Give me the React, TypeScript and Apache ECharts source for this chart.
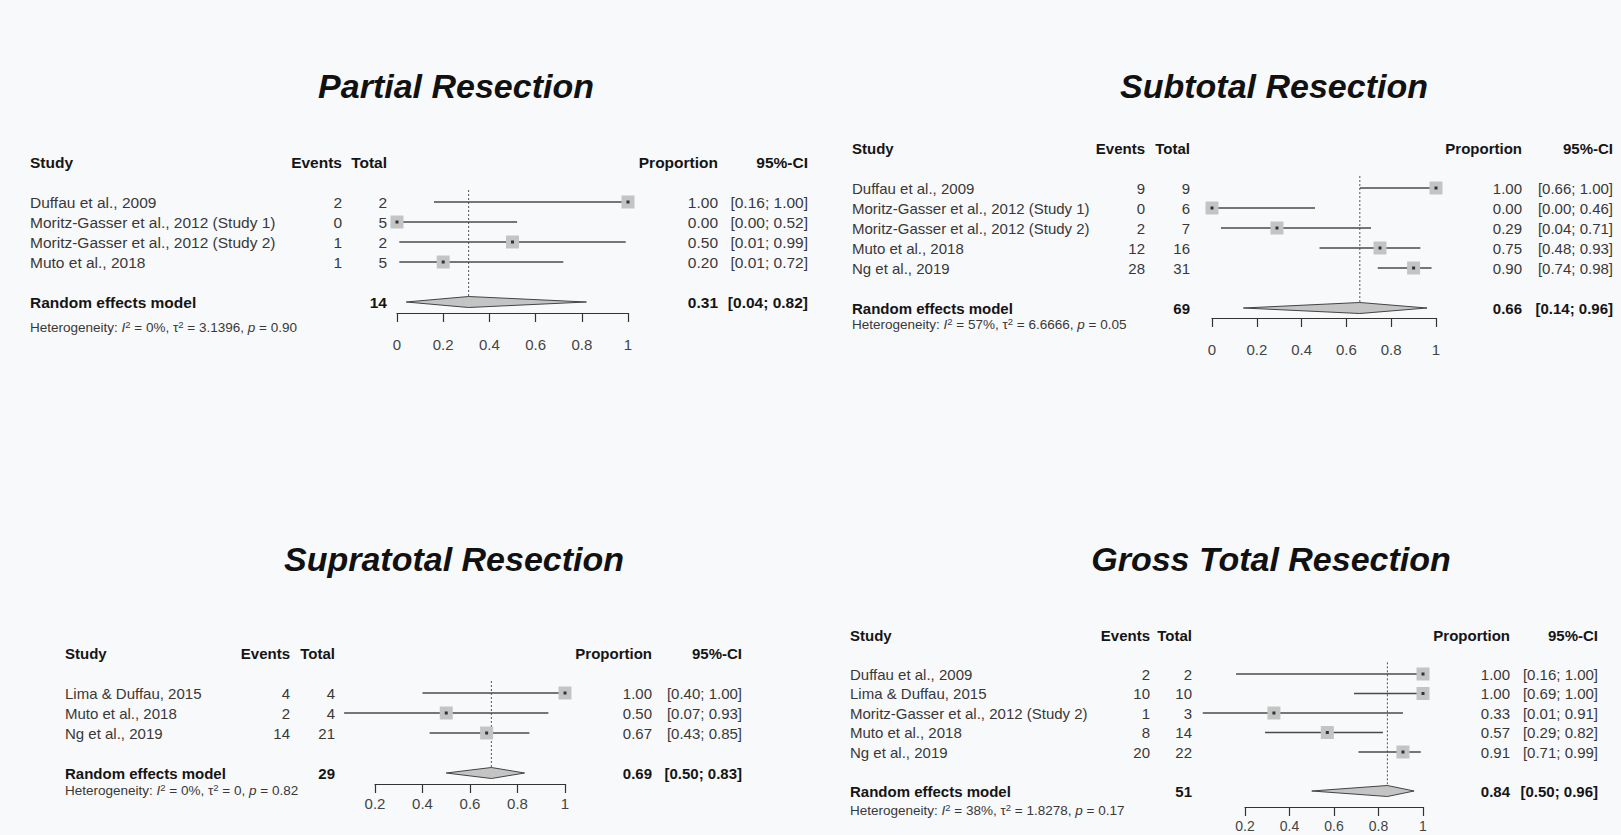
import React, { useEffect, useRef } from "react";
import * as echarts from "echarts";

// ---------------- Data: Partial Resection ----------------
const partialTitle = "Partial Resection";
const partialStudies = [
  "Duffau et al., 2009",
  "Moritz-Gasser et al., 2012 (Study 1)",
  "Moritz-Gasser et al., 2012 (Study 2)",
  "Muto et al., 2018",
];
const partialEvents = [2, 0, 1, 1];
const partialTotals = [2, 5, 2, 5];
const partialProp = [1.0, 0.0, 0.5, 0.2];
const partialLower = [0.16, 0.0, 0.01, 0.01];
const partialUpper = [1.0, 0.52, 0.99, 0.72];
const partialPooled = [0.31, 0.04, 0.82];
const partialTotalN = 14;
const partialHet = ["0%", "3.1396", "0.90"];
const partialTicks = [0, 0.2, 0.4, 0.6, 0.8, 1];

// ---------------- Data: Subtotal Resection ----------------
const subtotalTitle = "Subtotal Resection";
const subtotalStudies = [
  "Duffau et al., 2009",
  "Moritz-Gasser et al., 2012 (Study 1)",
  "Moritz-Gasser et al., 2012 (Study 2)",
  "Muto et al., 2018",
  "Ng et al., 2019",
];
const subtotalEvents = [9, 0, 2, 12, 28];
const subtotalTotals = [9, 6, 7, 16, 31];
const subtotalProp = [1.0, 0.0, 0.29, 0.75, 0.9];
const subtotalLower = [0.66, 0.0, 0.04, 0.48, 0.74];
const subtotalUpper = [1.0, 0.46, 0.71, 0.93, 0.98];
const subtotalPooled = [0.66, 0.14, 0.96];
const subtotalTotalN = 69;
const subtotalHet = ["57%", "6.6666", "0.05"];
const subtotalTicks = [0, 0.2, 0.4, 0.6, 0.8, 1];

// ---------------- Data: Supratotal Resection ----------------
const supratotalTitle = "Supratotal Resection";
const supratotalStudies = ["Lima & Duffau, 2015", "Muto et al., 2018", "Ng et al., 2019"];
const supratotalEvents = [4, 2, 14];
const supratotalTotals = [4, 4, 21];
const supratotalProp = [1.0, 0.5, 0.67];
const supratotalLower = [0.4, 0.07, 0.43];
const supratotalUpper = [1.0, 0.93, 0.85];
const supratotalPooled = [0.69, 0.5, 0.83];
const supratotalTotalN = 29;
const supratotalHet = ["0%", "0", "0.82"];
const supratotalTicks = [0.2, 0.4, 0.6, 0.8, 1];

// ---------------- Data: Gross Total Resection ----------------
const grossTitle = "Gross Total Resection";
const grossStudies = [
  "Duffau et al., 2009",
  "Lima & Duffau, 2015",
  "Moritz-Gasser et al., 2012 (Study 2)",
  "Muto et al., 2018",
  "Ng et al., 2019",
];
const grossEvents = [2, 10, 1, 8, 20];
const grossTotals = [2, 10, 3, 14, 22];
const grossProp = [1.0, 1.0, 0.33, 0.57, 0.91];
const grossLower = [0.16, 0.69, 0.01, 0.29, 0.71];
const grossUpper = [1.0, 1.0, 0.91, 0.82, 0.99];
const grossPooled = [0.84, 0.5, 0.96];
const grossTotalN = 51;
const grossHet = ["38%", "1.8278", "0.17"];
const grossTicks = [0.2, 0.4, 0.6, 0.8, 1];

const panels = [
  { title: partialTitle, studies: partialStudies, events: partialEvents, totals: partialTotals, prop: partialProp, lower: partialLower, upper: partialUpper, pooled: partialPooled, totalN: partialTotalN, het: partialHet, ticks: partialTicks },
  { title: subtotalTitle, studies: subtotalStudies, events: subtotalEvents, totals: subtotalTotals, prop: subtotalProp, lower: subtotalLower, upper: subtotalUpper, pooled: subtotalPooled, totalN: subtotalTotalN, het: subtotalHet, ticks: subtotalTicks },
  { title: supratotalTitle, studies: supratotalStudies, events: supratotalEvents, totals: supratotalTotals, prop: supratotalProp, lower: supratotalLower, upper: supratotalUpper, pooled: supratotalPooled, totalN: supratotalTotalN, het: supratotalHet, ticks: supratotalTicks },
  { title: grossTitle, studies: grossStudies, events: grossEvents, totals: grossTotals, prop: grossProp, lower: grossLower, upper: grossUpper, pooled: grossPooled, totalN: grossTotalN, het: grossHet, ticks: grossTicks },
];

// ---------------- Layout (pixels) ----------------
const layouts = [
  { titleX: 456, titleY: 86, headerY: 162, rowH: 20, studyX: 30, eventsX: 342, totalX: 387, propX: 718, ciX: 808, xLeft: 397, xRight: 628, axisY: 313, hetY: 327, labelMargin: 24, labelSize: 15, bodySize: 15.5, hetSize: 13.5 },
  { titleX: 1274, titleY: 86, headerY: 148, rowH: 20, studyX: 852, eventsX: 1145, totalX: 1190, propX: 1522, ciX: 1613, xLeft: 1212, xRight: 1436, axisY: 318, hetY: 324, labelMargin: 24, labelSize: 15, bodySize: 15, hetSize: 13.5 },
  { titleX: 454, titleY: 559, headerY: 653, rowH: 20, studyX: 65, eventsX: 290, totalX: 335, propX: 652, ciX: 742, xLeft: 375, xRight: 565, axisY: 784, hetY: 790, labelMargin: 12, labelSize: 15, bodySize: 15, hetSize: 13.5 },
  { titleX: 1271, titleY: 559, headerY: 635, rowH: 19.5, studyX: 850, eventsX: 1150, totalX: 1192, propX: 1510, ciX: 1598, xLeft: 1245, xRight: 1423, axisY: 807, hetY: 810, labelMargin: 12, labelSize: 14, bodySize: 15, hetSize: 13.5 },
];

const BG = "#f8f9fb";
const FONT = "'Liberation Sans', Arial, Helvetica, sans-serif";
const BODY = "#383838";
const HEAD = "#151515";

function fmt(v: number) {
  return v.toFixed(2);
}

function textEl(x: number, y: number, text: string, align: string, bold = false, size = 15) {
  return {
    type: "text",
    x,
    y,
    silent: true,
    style: {
      text,
      fill: bold ? HEAD : BODY,
      fontSize: size,
      fontFamily: FONT,
      fontWeight: bold ? "bold" : "normal",
      align,
      verticalAlign: "middle",
      textAlign: align,
      textVerticalAlign: "middle",
    },
  };
}

function buildOption() {
  const grids: any[] = [];
  const xAxes: any[] = [];
  const yAxes: any[] = [];
  const series: any[] = [];
  const graphics: any[] = [];

  panels.forEach((p, k) => {
    const L = layouts[k];
    const n = p.studies.length;
    const firstRow = 2;
    const reRow = n + 3;
    const axisRow = (L.axisY - L.headerY) / L.rowH;
    const hetRow = (L.hetY - L.headerY) / L.rowH;
    const xMin = p.ticks[0];
    const xMax = p.ticks[p.ticks.length - 1];

    graphics.push({
      type: "text",
      x: L.titleX,
      y: L.titleY,
      silent: true,
      style: {
        text: p.title,
        fill: "#111",
        fontSize: 34,
        fontFamily: FONT,
        fontWeight: "bold",
        fontStyle: "italic",
        align: "center",
        verticalAlign: "middle",
        textAlign: "center",
        textVerticalAlign: "middle",
      },
    });

    grids.push({ left: L.xLeft, width: L.xRight - L.xLeft, top: L.headerY, height: L.axisY - L.headerY, show: false });
    xAxes.push({
      gridIndex: k,
      type: "value",
      min: xMin,
      max: xMax,
      interval: 0.2,
      position: "bottom",
      axisLine: { show: true, onZero: false, lineStyle: { color: "#333", width: 1.2 } },
      axisTick: { show: true, length: 9, inside: false, lineStyle: { color: "#333", width: 1.2 } },
      axisLabel: {
        show: true,
        margin: L.labelMargin,
        color: "#444",
        fontSize: L.labelSize,
        fontFamily: FONT,
        formatter: (v: number) => String(+v.toFixed(1)),
      },
      splitLine: { show: false },
    });
    yAxes.push({ gridIndex: k, type: "value", inverse: true, min: 0, max: axisRow, show: false });

    // Dotted line at pooled estimate
    series.push({
      type: "custom",
      xAxisIndex: k,
      yAxisIndex: k,
      silent: true,
      clip: false,
      encode: { x: 0, y: 1 },
      data: [[p.pooled[0], firstRow - 0.6, reRow]],
      renderItem: (_params: any, api: any) => {
        const a = api.coord([api.value(0), api.value(1)]);
        const b = api.coord([api.value(0), api.value(2)]);
        return {
          type: "line",
          shape: { x1: a[0], y1: a[1], x2: b[0], y2: b[1] },
          style: { stroke: "#555", lineWidth: 1, lineDash: [2, 2] },
        };
      },
      z: 2,
    });

    // Study CIs and squares
    series.push({
      type: "custom",
      xAxisIndex: k,
      yAxisIndex: k,
      silent: true,
      clip: false,
      encode: { x: 0, y: 1 },
      data: p.studies.map((_s, i) => [p.prop[i], firstRow + i, p.lower[i], p.upper[i]]),
      renderItem: (_params: any, api: any) => {
        const c = api.coord([api.value(0), api.value(1)]);
        const lo = api.coord([api.value(2), api.value(1)]);
        const hi = api.coord([api.value(3), api.value(1)]);
        const s = 13;
        return {
          type: "group",
          children: [
            { type: "line", shape: { x1: lo[0], y1: lo[1], x2: hi[0], y2: hi[1] }, style: { stroke: "#4a4a4a", lineWidth: 1.4 } },
            { type: "rect", shape: { x: c[0] - s / 2, y: c[1] - s / 2, width: s, height: s }, style: { fill: "#c4c4c4" } },
            { type: "rect", shape: { x: c[0] - 1.5, y: c[1] - 1.5, width: 3, height: 3 }, style: { fill: "#333" } },
          ],
        };
      },
      z: 3,
    });

    // Pooled diamond
    series.push({
      type: "custom",
      xAxisIndex: k,
      yAxisIndex: k,
      silent: true,
      clip: false,
      encode: { x: 0, y: 1 },
      data: [[p.pooled[0], reRow, p.pooled[1], p.pooled[2]]],
      renderItem: (_params: any, api: any) => {
        const c = api.coord([api.value(0), api.value(1)]);
        const lo = api.coord([api.value(2), api.value(1)]);
        const hi = api.coord([api.value(3), api.value(1)]);
        const h = 5.5;
        return {
          type: "polygon",
          shape: { points: [[lo[0], c[1]], [c[0], c[1] - h], [hi[0], c[1]], [c[0], c[1] + h]] },
          style: { fill: "#c4c4c4", stroke: "#444", lineWidth: 1 },
        };
      },
      z: 3,
    });

    // Table texts
    type Row = { row: number; kind: string; cells: string[] };
    const rows: Row[] = [];
    rows.push({ row: 0, kind: "header", cells: ["Study", "Events", "Total", "Proportion", "95%-CI"] });
    p.studies.forEach((s, i) => {
      rows.push({
        row: firstRow + i,
        kind: "study",
        cells: [s, String(p.events[i]), String(p.totals[i]), fmt(p.prop[i]), `[${fmt(p.lower[i])}; ${fmt(p.upper[i])}]`],
      });
    });
    rows.push({
      row: reRow,
      kind: "pooled",
      cells: ["Random effects model", "", String(p.totalN), fmt(p.pooled[0]), `[${fmt(p.pooled[1])}; ${fmt(p.pooled[2])}]`],
    });
    rows.push({ row: hetRow, kind: "het", cells: [] });

    const colX = [L.studyX, L.eventsX, L.totalX, L.propX, L.ciX];
    const colAlign = ["left", "right", "right", "right", "right"];

    series.push({
      type: "custom",
      xAxisIndex: k,
      yAxisIndex: k,
      silent: true,
      clip: false,
      encode: { x: 0, y: 1 },
      data: rows.map((r) => [xMin, r.row]),
      renderItem: (params: any, api: any) => {
        const r = rows[params.dataIndex];
        const y = api.coord([api.value(0), api.value(1)])[1];
        if (r.kind === "het") {
          const h = p.het;
          const fs = L.hetSize;
          return {
            type: "text",
            x: L.studyX,
            y,
            silent: true,
            style: {
              text: `{n|Heterogeneity: }{i|I}{s|2}{n| = ${h[0]}, τ}{s|2}{n| = ${h[1]}, }{i|p}{n| = ${h[2]}}`,
              fill: BODY,
              fontSize: fs,
              fontFamily: FONT,
              align: "left",
              verticalAlign: "middle",
              textAlign: "left",
              textVerticalAlign: "middle",
              rich: {
                n: { fontSize: fs, fontFamily: FONT, fill: BODY, lineHeight: 16 },
                i: { fontSize: fs, fontFamily: FONT, fontStyle: "italic", fill: BODY, lineHeight: 16 },
                s: { fontSize: 9.5, fontFamily: FONT, fill: BODY, lineHeight: 9, verticalAlign: "top" },
              },
            },
          };
        }
        const bold = r.kind !== "study";
        const children: any[] = [];
        r.cells.forEach((c, j) => {
          if (!c) return;
          children.push(textEl(colX[j], y, c, colAlign[j], bold, L.bodySize));
        });
        return { type: "group", children };
      },
      z: 5,
    });
  });

  return {
    animation: false,
    backgroundColor: BG,
    tooltip: { show: false },
    grid: grids,
    xAxis: xAxes,
    yAxis: yAxes,
    series,
    graphic: graphics,
  };
}

export default function App() {
  const ref = useRef<HTMLDivElement>(null);
  useEffect(() => {
    document.body.style.margin = "0";
    document.body.style.padding = "0";
    document.body.style.overflow = "hidden";
    document.body.style.background = BG;
    document.documentElement.style.background = BG;
    if (!ref.current) return;
    const chart = echarts.init(ref.current, null, { renderer: "svg" });
    chart.setOption(buildOption() as any);
    const onResize = () => chart.resize();
    window.addEventListener("resize", onResize);
    return () => {
      window.removeEventListener("resize", onResize);
      chart.dispose();
    };
  }, []);
  return (
    <div
      ref={ref}
      style={{ position: "fixed", left: 0, top: 0, width: "100vw", height: "100vh", background: BG }}
    />
  );
}
